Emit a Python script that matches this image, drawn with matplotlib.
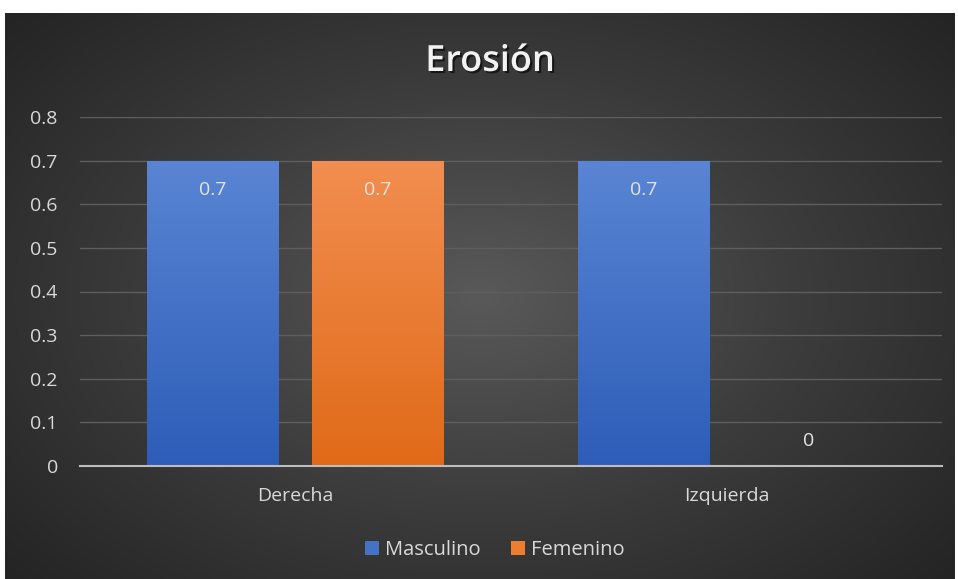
import matplotlib.pyplot as plt
import matplotlib.patheffects as pe
import numpy as np
from matplotlib.colors import LinearSegmentedColormap
from matplotlib.patches import Patch

plt.rcParams["font.family"] = ["Open Sans", "DejaVu Sans"]

categories = ["Derecha", "Izquierda"]
series_names = ["Masculino", "Femenino"]
masculino = [0.7, 0.7]
femenino = [0.7, 0.0]
yticks = [0, 0.1, 0.2, 0.3, 0.4, 0.5, 0.6, 0.7, 0.8]

# top / bottom colours of each series gradient
series_colors = [("#5a85d4", "#2d5db8"), ("#f28e50", "#e06a18")]
legend_colors = ["#4472c4", "#ed7d31"]

fig = plt.figure(figsize=(9.58, 5.79), dpi=100)
fig.patch.set_facecolor("white")

# dark chart area with a soft radial highlight in the middle
bg = fig.add_axes([5 / 958, 0, 950 / 958, 566 / 579])
bg.set_axis_off()
yy, xx = np.mgrid[-1:1:300j, -1:1:500j]
r = np.sqrt((xx / 1.0) ** 2 + (yy / 1.1) ** 2)
bg_cmap = LinearSegmentedColormap.from_list("bg", ["#595959", "#3c3c3c", "#242424"])
bg.imshow(r, cmap=bg_cmap, vmin=0, vmax=1.35, aspect="auto", extent=[0, 1, 0, 1])

ax = fig.add_axes([80 / 958, 113 / 579, 862 / 958, 349 / 579])
ax.set_facecolor("none")
ax.set_xlim(-0.5, 1.5)
ax.set_ylim(0, 0.8)

x = np.arange(len(categories))
width = 0.306
offset = 0.191
grad = np.linspace(1, 0, 256).reshape(-1, 1)
fs = 14

for i, (vals, (top, bottom)) in enumerate(zip([masculino, femenino], series_colors)):
    cmap = LinearSegmentedColormap.from_list(f"s{i}", [bottom, top])
    xs = x + (offset if i else -offset)
    bars = ax.bar(xs, vals, width, color="none", zorder=2)
    for b, v in zip(bars, vals):
        if v > 0:
            im = ax.imshow(grad, cmap=cmap, aspect="auto", zorder=2,
                           extent=[b.get_x(), b.get_x() + width, 0, v])
            im.set_clip_path(b)
            ax.text(b.get_x() + width / 2, v - 0.067, f"{v:g}", ha="center", va="center",
                    color="#e4e4e4", fontsize=fs, zorder=3)
        else:
            ax.text(b.get_x() + width / 2, v + 0.057, f"{v:g}", ha="center", va="center",
                    color="#e4e4e4", fontsize=fs, zorder=3)

ax.set_yticks(yticks)
ax.set_yticklabels([f"{t:g}" for t in yticks])
ax.set_xticks(x)
ax.set_xticklabels(categories)
ax.tick_params(axis="y", length=0, pad=16, labelcolor="#d9d9d9", labelsize=fs)
ax.tick_params(axis="x", length=0, pad=15, labelcolor="#d9d9d9", labelsize=fs)
ax.grid(axis="y", color="#5e5e5e", linewidth=1, zorder=0)
for s in ["top", "right", "left"]:
    ax.spines[s].set_visible(False)
ax.spines["bottom"].set_color("#bdbdbd")
ax.spines["bottom"].set_linewidth(1.5)
ax.spines["bottom"].set_zorder(4)

fig.text(490 / 958, 1 - 62 / 579, "Erosión", ha="center", va="center", color="#f2f2f2",
         fontsize=26, fontweight="semibold",
         path_effects=[pe.SimplePatchShadow(offset=(1.5, -1.5), shadow_rgbFace="black", alpha=0.6),
                       pe.Normal()])

handles = [Patch(facecolor=c, edgecolor="none") for c in legend_colors]
fig.legend(handles, series_names, loc="center", bbox_to_anchor=(495 / 958, 1 - 550 / 579),
           ncol=2, frameon=False, fontsize=14.5, labelcolor="#d9d9d9",
           handlelength=0.7, handleheight=0.7, handletextpad=0.3, columnspacing=1.5)

fig.savefig("out.png", dpi=100)
